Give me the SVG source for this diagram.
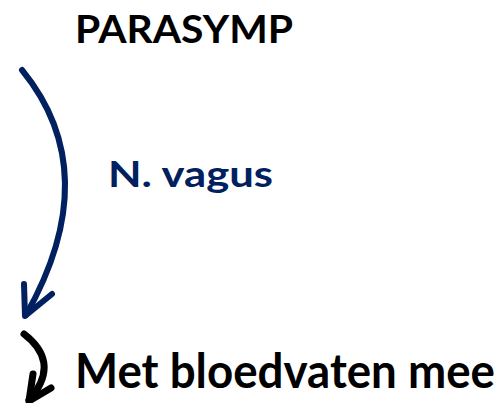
<svg xmlns="http://www.w3.org/2000/svg" width="502" height="403" viewBox="0 0 502 403">
<style>
.t{font-family:Lato,"Open Sans","Liberation Sans",sans-serif;font-weight:bold}
.blue{fill:#002060}
.blk{fill:#000}
.c{fill:none;stroke-linecap:round;stroke-linejoin:round}
</style>
<rect width="502" height="403" fill="#fff"/>
<g id="parasymp"><text class="t blk" x="75" y="43" font-size="39" textLength="218" lengthAdjust="spacingAndGlyphs">PARASYMP</text></g>
<g id="nvagus"><text class="t blue" x="108" y="187" font-size="36" textLength="165" lengthAdjust="spacingAndGlyphs">N. vagus</text></g>
<g id="bloedvaten"><text class="t blk" x="75" y="388" font-size="47" textLength="420" lengthAdjust="spacingAndGlyphs">Met bloedvaten mee</text></g>
<g id="connectors">
<path class="c" d="M22,70 Q106,173 26,315" stroke="#002060" stroke-width="6"/>
<path class="c" d="M24,284 L25,316 L52,294" stroke="#002060" stroke-width="6"/>
<path class="c" d="M24,334 C45,350 54,372 29,400" stroke="#000" stroke-width="7"/>
<path class="c" d="M33,374 L29,401 L51,388" stroke="#000" stroke-width="7"/>
</g>
</svg>
